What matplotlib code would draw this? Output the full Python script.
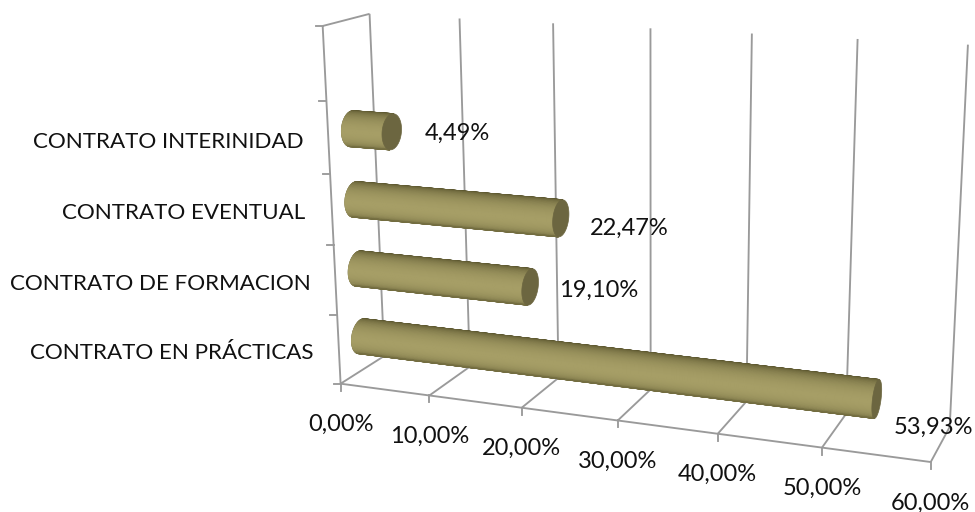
import numpy as np
import matplotlib
matplotlib.use("Agg")
import matplotlib.pyplot as plt
from matplotlib.colors import LinearSegmentedColormap
from matplotlib.patches import Polygon

# ---- data
categories = ["CONTRATO EN PRÁCTICAS", "CONTRATO DE FORMACION", "CONTRATO EVENTUAL", "CONTRATO INTERINIDAD"]
values = [53.93, 19.10, 22.47, 4.49]
value_labels = ["53,93%", "19,10%", "22,47%", "4,49%"]
x_ticks = [0, 10, 20, 30, 40, 50, 60]
x_tick_labels = ["0,00%", "10,00%", "20,00%", "30,00%", "40,00%", "50,00%", "60,00%"]
n_slots = 5
x_max = 60.0

# ---- layout: camera fitted on the visible corners of the 3D box (pixels)
anchors = [
    ((0, 0, 0), (341, 383)), ((1, 0, 0), (931, 462)), ((0, 0, 1), (323, 27)),
    ((0, 1, 1), (370, 14)), ((1, 1, 1), (968, 45)), ((0, 1, 0), (384, 356)),
    ((1, 1, 0), (949, 428)), ((1/6, 0, 0), (430, 396)), ((2/6, 0, 0), (522, 408)),
    ((3/6, 0, 0), (618, 420)), ((4/6, 0, 0), (718, 434)), ((5/6, 0, 0), (822, 447)),
    ((0, 0, .2), (337, 315)), ((0, 0, .4), (333, 245)), ((0, 0, .6), (329, 174)),
    ((0, 0, .8), (326, 101)), ((1/6, 1, 1), (460, 19)), ((2/6, 1, 1), (553, 23)),
    ((3/6, 1, 1), (651, 27)), ((4/6, 1, 1), (752, 33)), ((5/6, 1, 1), (857, 39)),
]
A, b = [], []
for (X, Y, Z), (u, v) in anchors:
    A.append([X, Y, Z, 1, 0, 0, 0, 0, -u*X, -u*Y, -u*Z]); b.append(u)
    A.append([0, 0, 0, 0, X, Y, Z, 1, -v*X, -v*Y, -v*Z]); b.append(v)
P = np.append(np.linalg.lstsq(np.array(A, float), np.array(b, float), rcond=None)[0], 1).reshape(3, 4)


def project(x, y, z):
    x, y, z = np.broadcast_arrays(np.asarray(x, float), np.asarray(y, float), np.asarray(z, float))
    q = P @ np.stack([x, y, z, np.ones_like(x)])
    return q[0] / q[2], q[1] / q[2]


GRID = "#9a9a9a"


def seg(ax, p0, p1, lw=1.35, z=1):
    x0, y0 = project(*p0); x1, y1 = project(*p1)
    ax.plot([x0, x1], [y0, y1], color=GRID, lw=lw, zorder=z, solid_capstyle="butt")


fig = plt.figure(figsize=(9.75, 5.12), dpi=100, facecolor="white")
ax = fig.add_axes([0, 0, 1, 1])
ax.set_xlim(0, 975); ax.set_ylim(512, 0); ax.axis("off")
CAT_FONT = dict(family="Lato", color="#111111", fontsize=16.1)
NUM_FONT = dict(family="Lato", color="#111111", fontsize=17.0)

# walls, floor, gridlines
for t, lab in zip(x_ticks, x_tick_labels):
    f = t / x_max
    seg(ax, (f, 1, 0), (f, 1, 1))
    seg(ax, (f, 0, 0), (f, 1, 0))
    x0, y0 = project(f, 0, 0)
    ax.plot([x0, x0], [y0, y0 + 7], color=GRID, lw=1.35, zorder=1)
    ax.text(x0, y0 + 41, lab, ha="center", va="center", zorder=5, **NUM_FONT)
seg(ax, (0, 0, 0), (1, 0, 0))
seg(ax, (0, 0, 0), (0, 0, 1))
seg(ax, (0, 0, 1), (0, 1, 1))
for k in range(n_slots + 1):
    x0, y0 = project(0, 0, k / n_slots)
    ax.plot([x0 - 7, x0], [y0, y0], color=GRID, lw=1.35, zorder=1)

# cylinders
cmap = LinearSegmentedColormap.from_list("olive", ["#57522c", "#a69e66"])
cap_col = "#6c6640"
rd, rh = 0.22, 0.049
ring = np.linspace(0, 2 * np.pi, 361)[:-1]
label_offsets = [(57, 28), (68, 3), (68, 10), (66, 2)]
cat_offsets = [(-25, 3), (-25, 3), (-27, 3), (-25, 4)]
for i, val in enumerate(values):
    f = val / x_max
    zc = (i + 0.5) / n_slots
    yc = 0.5
    ys = yc + rd * np.cos(ring)
    zs = zc + rh * np.sin(ring)
    xa, ya = project(0, ys, zs)
    xb, yb = project(f, ys, zs)
    # tangent points of the silhouette, seen across the bar axis
    ax0, ay0 = project(0, yc, zc)
    ax1, ay1 = project(f, yc, zc)
    dirx, diry = ax1 - ax0, ay1 - ay0
    xm, ym = project(f / 2, ys, zs)
    cm, cmy = project(f / 2, yc, zc)
    perp = ((xm - cm) * diry - (ym - cmy) * dirx) / np.hypot(dirx, diry)
    t_up = ring[np.argmin(perp)]
    t_dn = ring[np.argmax(perp)]
    lo, hi = sorted([t_up, t_dn])
    if lo < np.pi < hi:
        arc = np.linspace(lo, hi, 60)
    else:
        arc = np.linspace(hi, lo + 2 * np.pi, 60)
    yarc = yc + rd * np.cos(arc)
    zarc = zc + rh * np.sin(arc)
    xA, yA = project(0, yarc, zarc)
    xB, yB = project(f, yarc, zarc)
    # silhouette underlay keeps the outline smooth
    ax.add_patch(Polygon(np.column_stack([np.r_[xA, xB[::-1]], np.r_[yA, yB[::-1]]]), closed=True,
                         facecolor="#5f5a33", edgecolor="#5f5a33", lw=0.8, zorder=3))
    pos = np.linspace(-1, 1, len(arc))
    if perp[np.argmin(np.abs(ring - arc[0] % (2 * np.pi)))] > 0:
        pos = pos[::-1]  # pos = -1 at top edge
    shade = np.clip(np.cos(np.pi / 2 * np.clip((pos + 0.12) / 1.12, -1, 1)), 0, 1) ** 0.95
    X = np.vstack([xA, xB]); Y = np.vstack([yA, yB]); C = np.vstack([shade, shade])
    ax.pcolormesh(X, Y, C, shading="gouraud", cmap=cmap, vmin=0, vmax=1, zorder=3.1)
    ax.add_patch(Polygon(np.column_stack([xb, yb]), closed=True, facecolor=cap_col, edgecolor=cap_col, lw=0.5, zorder=4))
    dx, dy = label_offsets[i]
    ax.text(ax1 + dx, ay1 + dy, value_labels[i], ha="center", va="center", zorder=5, **NUM_FONT)
    wx, wy = project(0, 0, zc)
    cdx, cdy = cat_offsets[i]
    ax.text(wx + cdx, wy + cdy, categories[i], ha="right", va="center", zorder=5, **CAT_FONT)

ax.set_xlim(0, 975); ax.set_ylim(512, 0)
fig.savefig("out.png", dpi=100, facecolor="white")
